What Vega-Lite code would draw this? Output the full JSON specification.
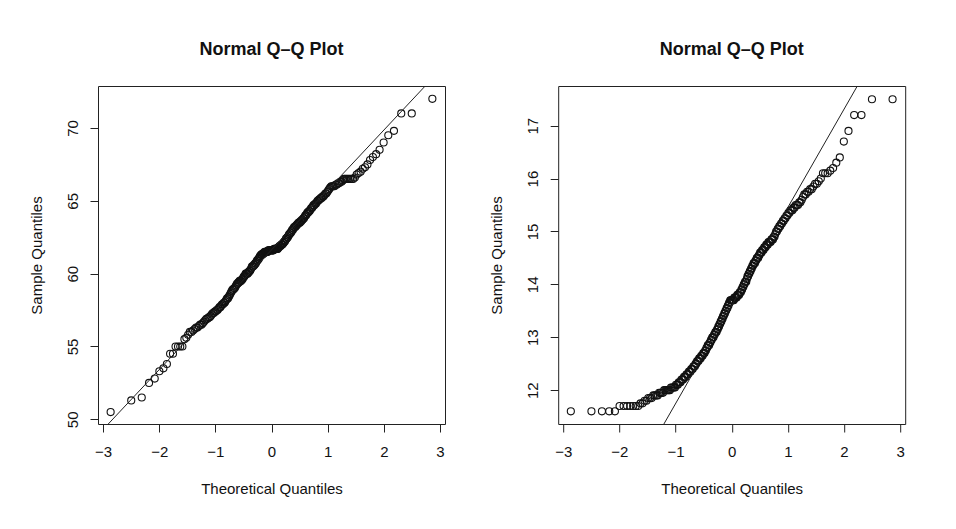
{
"$schema": "https://vega.github.io/schema/vega-lite/v6.json",
"background": "white",
"padding": {"left": 28, "top": 40, "right": 5, "bottom": 5},
"spacing": 42.2,
"datasets": {
"pts": [
{"x":-2.865,"a":50.5,"b":11.6},{"x":-2.498,"a":51.3,"b":11.6},{"x":-2.311,"a":51.5,"b":11.6},{"x":-2.181,"a":52.5,"b":11.6},{"x":-2.080,"a":52.8,"b":11.6},
{"x":-1.997,"a":53.3,"b":11.7},{"x":-1.925,"a":53.5,"b":11.7},{"x":-1.863,"a":53.8,"b":11.7},{"x":-1.806,"a":54.5,"b":11.7},{"x":-1.755,"a":54.5,"b":11.7},
{"x":-1.709,"a":55.0,"b":11.7},{"x":-1.665,"a":55.0,"b":11.7},{"x":-1.625,"a":55.0,"b":11.75},{"x":-1.587,"a":55.0,"b":11.75},{"x":-1.551,"a":55.5,"b":11.8},
{"x":-1.517,"a":55.6,"b":11.8},{"x":-1.485,"a":55.8,"b":11.85},{"x":-1.454,"a":56.0,"b":11.85},{"x":-1.425,"a":56.0,"b":11.85},{"x":-1.397,"a":56.1,"b":11.9},
{"x":-1.369,"a":56.2,"b":11.9},{"x":-1.343,"a":56.3,"b":11.9},{"x":-1.318,"a":56.3,"b":11.9},{"x":-1.293,"a":56.4,"b":11.95},{"x":-1.270,"a":56.5,"b":11.95},
{"x":-1.247,"a":56.5,"b":11.95},{"x":-1.224,"a":56.6,"b":11.95},{"x":-1.203,"a":56.7,"b":12.0},{"x":-1.181,"a":56.8,"b":12.0},{"x":-1.160,"a":56.9,"b":12.0},
{"x":-1.140,"a":56.9,"b":12.0},{"x":-1.120,"a":57.0,"b":12.0},{"x":-1.101,"a":57.0,"b":12.0},{"x":-1.082,"a":57.1,"b":12.05},{"x":-1.064,"a":57.2,"b":12.05},
{"x":-1.045,"a":57.3,"b":12.05},{"x":-1.027,"a":57.3,"b":12.05},{"x":-1.010,"a":57.4,"b":12.05},{"x":-0.993,"a":57.4,"b":12.1},{"x":-0.976,"a":57.5,"b":12.1},
{"x":-0.959,"a":57.5,"b":12.1},{"x":-0.943,"a":57.6,"b":12.15},{"x":-0.926,"a":57.7,"b":12.15},{"x":-0.911,"a":57.7,"b":12.15},{"x":-0.895,"a":57.8,"b":12.2},
{"x":-0.880,"a":57.9,"b":12.2},{"x":-0.864,"a":57.9,"b":12.2},{"x":-0.849,"a":58.0,"b":12.25},{"x":-0.834,"a":58.0,"b":12.25},{"x":-0.820,"a":58.1,"b":12.25},
{"x":-0.805,"a":58.2,"b":12.3},{"x":-0.791,"a":58.3,"b":12.3},{"x":-0.776,"a":58.3,"b":12.3},{"x":-0.762,"a":58.4,"b":12.35},{"x":-0.748,"a":58.5,"b":12.35},
{"x":-0.735,"a":58.6,"b":12.35},{"x":-0.721,"a":58.7,"b":12.4},{"x":-0.708,"a":58.8,"b":12.4},{"x":-0.694,"a":58.9,"b":12.4},{"x":-0.681,"a":58.9,"b":12.45},
{"x":-0.668,"a":59.0,"b":12.45},{"x":-0.655,"a":59.0,"b":12.45},{"x":-0.642,"a":59.1,"b":12.5},{"x":-0.629,"a":59.2,"b":12.5},{"x":-0.616,"a":59.3,"b":12.55},
{"x":-0.604,"a":59.3,"b":12.55},{"x":-0.591,"a":59.4,"b":12.55},{"x":-0.579,"a":59.4,"b":12.6},{"x":-0.567,"a":59.5,"b":12.6},{"x":-0.554,"a":59.5,"b":12.6},
{"x":-0.542,"a":59.5,"b":12.65},{"x":-0.530,"a":59.6,"b":12.65},{"x":-0.518,"a":59.6,"b":12.65},{"x":-0.506,"a":59.7,"b":12.7},{"x":-0.494,"a":59.8,"b":12.7},
{"x":-0.483,"a":59.8,"b":12.7},{"x":-0.471,"a":59.9,"b":12.75},{"x":-0.459,"a":60.0,"b":12.75},{"x":-0.448,"a":60.0,"b":12.8},{"x":-0.436,"a":60.0,"b":12.8},
{"x":-0.425,"a":60.0,"b":12.85},{"x":-0.414,"a":60.1,"b":12.85},{"x":-0.402,"a":60.1,"b":12.85},{"x":-0.391,"a":60.2,"b":12.9},{"x":-0.380,"a":60.2,"b":12.9},
{"x":-0.368,"a":60.3,"b":12.95},{"x":-0.357,"a":60.4,"b":12.95},{"x":-0.346,"a":60.5,"b":13.0},{"x":-0.335,"a":60.5,"b":13.0},{"x":-0.324,"a":60.5,"b":13.0},
{"x":-0.313,"a":60.6,"b":13.05},{"x":-0.302,"a":60.6,"b":13.05},{"x":-0.291,"a":60.7,"b":13.1},{"x":-0.281,"a":60.7,"b":13.1},{"x":-0.270,"a":60.8,"b":13.1},
{"x":-0.259,"a":60.9,"b":13.15},{"x":-0.248,"a":60.9,"b":13.15},{"x":-0.238,"a":61.0,"b":13.2},{"x":-0.227,"a":61.0,"b":13.2},{"x":-0.216,"a":61.1,"b":13.25},
{"x":-0.206,"a":61.2,"b":13.25},{"x":-0.195,"a":61.2,"b":13.3},{"x":-0.184,"a":61.3,"b":13.3},{"x":-0.174,"a":61.3,"b":13.35},{"x":-0.163,"a":61.3,"b":13.35},
{"x":-0.153,"a":61.4,"b":13.4},{"x":-0.142,"a":61.4,"b":13.4},{"x":-0.131,"a":61.4,"b":13.45},{"x":-0.121,"a":61.5,"b":13.45},{"x":-0.110,"a":61.5,"b":13.5},
{"x":-0.100,"a":61.5,"b":13.5},{"x":-0.089,"a":61.5,"b":13.55},{"x":-0.078,"a":61.5,"b":13.55},{"x":-0.068,"a":61.5,"b":13.6},{"x":-0.057,"a":61.6,"b":13.6},
{"x":-0.047,"a":61.6,"b":13.65},{"x":-0.037,"a":61.6,"b":13.65},{"x":-0.026,"a":61.6,"b":13.7},{"x":-0.016,"a":61.6,"b":13.7},{"x":-0.005,"a":61.6,"b":13.7},
{"x":0.005,"a":61.6,"b":13.7},{"x":0.016,"a":61.6,"b":13.7},{"x":0.026,"a":61.6,"b":13.7},{"x":0.037,"a":61.6,"b":13.7},{"x":0.047,"a":61.7,"b":13.75},
{"x":0.057,"a":61.7,"b":13.75},{"x":0.068,"a":61.7,"b":13.75},{"x":0.078,"a":61.7,"b":13.75},{"x":0.089,"a":61.7,"b":13.75},{"x":0.100,"a":61.7,"b":13.8},
{"x":0.110,"a":61.7,"b":13.8},{"x":0.121,"a":61.8,"b":13.8},{"x":0.131,"a":61.8,"b":13.8},{"x":0.142,"a":61.9,"b":13.85},{"x":0.153,"a":61.9,"b":13.85},
{"x":0.163,"a":61.9,"b":13.85},{"x":0.174,"a":62.0,"b":13.9},{"x":0.184,"a":62.0,"b":13.9},{"x":0.195,"a":62.0,"b":13.95},{"x":0.206,"a":62.1,"b":13.95},
{"x":0.216,"a":62.1,"b":14.0},{"x":0.227,"a":62.2,"b":14.0},{"x":0.238,"a":62.2,"b":14.05},{"x":0.248,"a":62.3,"b":14.05},{"x":0.259,"a":62.4,"b":14.05},
{"x":0.270,"a":62.4,"b":14.1},{"x":0.281,"a":62.5,"b":14.15},{"x":0.291,"a":62.5,"b":14.15},{"x":0.302,"a":62.6,"b":14.2},{"x":0.313,"a":62.7,"b":14.2},
{"x":0.324,"a":62.7,"b":14.25},{"x":0.335,"a":62.8,"b":14.25},{"x":0.346,"a":62.8,"b":14.3},{"x":0.357,"a":62.9,"b":14.3},{"x":0.368,"a":63.0,"b":14.35},
{"x":0.380,"a":63.0,"b":14.35},{"x":0.391,"a":63.1,"b":14.4},{"x":0.402,"a":63.2,"b":14.4},{"x":0.414,"a":63.2,"b":14.4},{"x":0.425,"a":63.2,"b":14.45},
{"x":0.436,"a":63.3,"b":14.45},{"x":0.448,"a":63.3,"b":14.5},{"x":0.459,"a":63.4,"b":14.5},{"x":0.471,"a":63.4,"b":14.5},{"x":0.483,"a":63.5,"b":14.55},
{"x":0.494,"a":63.5,"b":14.55},{"x":0.506,"a":63.5,"b":14.6},{"x":0.518,"a":63.6,"b":14.6},{"x":0.530,"a":63.6,"b":14.6},{"x":0.542,"a":63.7,"b":14.65},
{"x":0.554,"a":63.7,"b":14.65},{"x":0.567,"a":63.8,"b":14.65},{"x":0.579,"a":63.8,"b":14.7},{"x":0.591,"a":63.9,"b":14.7},{"x":0.604,"a":64.0,"b":14.7},
{"x":0.616,"a":64.0,"b":14.75},{"x":0.629,"a":64.1,"b":14.75},{"x":0.642,"a":64.2,"b":14.75},{"x":0.655,"a":64.2,"b":14.8},{"x":0.668,"a":64.3,"b":14.8},
{"x":0.681,"a":64.3,"b":14.8},{"x":0.694,"a":64.4,"b":14.8},{"x":0.708,"a":64.5,"b":14.85},{"x":0.721,"a":64.5,"b":14.85},{"x":0.735,"a":64.6,"b":14.85},
{"x":0.748,"a":64.7,"b":14.9},{"x":0.762,"a":64.7,"b":14.9},{"x":0.776,"a":64.8,"b":14.95},{"x":0.791,"a":64.8,"b":15.0},{"x":0.805,"a":64.9,"b":15.0},
{"x":0.820,"a":65.0,"b":15.05},{"x":0.834,"a":65.0,"b":15.05},{"x":0.849,"a":65.1,"b":15.1},{"x":0.864,"a":65.1,"b":15.1},{"x":0.880,"a":65.2,"b":15.15},
{"x":0.895,"a":65.2,"b":15.15},{"x":0.911,"a":65.3,"b":15.2},{"x":0.926,"a":65.3,"b":15.2},{"x":0.943,"a":65.4,"b":15.25},{"x":0.959,"a":65.5,"b":15.25},
{"x":0.976,"a":65.5,"b":15.3},{"x":0.993,"a":65.6,"b":15.3},{"x":1.010,"a":65.7,"b":15.35},{"x":1.027,"a":65.8,"b":15.35},{"x":1.045,"a":65.9,"b":15.4},
{"x":1.064,"a":66.0,"b":15.4},{"x":1.082,"a":66.0,"b":15.4},{"x":1.101,"a":66.0,"b":15.45},{"x":1.120,"a":66.0,"b":15.45},{"x":1.140,"a":66.1,"b":15.5},
{"x":1.160,"a":66.1,"b":15.5},{"x":1.181,"a":66.2,"b":15.5},{"x":1.203,"a":66.2,"b":15.55},{"x":1.224,"a":66.3,"b":15.55},{"x":1.247,"a":66.3,"b":15.6},
{"x":1.270,"a":66.4,"b":15.65},{"x":1.293,"a":66.5,"b":15.7},{"x":1.318,"a":66.5,"b":15.7},{"x":1.343,"a":66.5,"b":15.75},{"x":1.369,"a":66.5,"b":15.75},
{"x":1.397,"a":66.5,"b":15.8},{"x":1.425,"a":66.5,"b":15.8},{"x":1.454,"a":66.5,"b":15.85},{"x":1.485,"a":66.6,"b":15.9},{"x":1.517,"a":66.8,"b":15.9},
{"x":1.551,"a":66.9,"b":15.95},{"x":1.587,"a":67.0,"b":16.0},{"x":1.625,"a":67.2,"b":16.1},{"x":1.665,"a":67.3,"b":16.1},{"x":1.709,"a":67.5,"b":16.1},
{"x":1.755,"a":67.8,"b":16.15},{"x":1.806,"a":68.0,"b":16.2},{"x":1.863,"a":68.2,"b":16.3},{"x":1.925,"a":68.5,"b":16.4},{"x":1.997,"a":69.0,"b":16.7},
{"x":2.080,"a":69.5,"b":16.9},{"x":2.181,"a":69.8,"b":17.2},{"x":2.311,"a":71.0,"b":17.2},{"x":2.498,"a":71.0,"b":17.5},{"x":2.865,"a":72.0,"b":17.5}
],
"lineL": [{"x1":-3.3,"y1":48.067,"x2":3.3,"y2":75.193}],
"lineR": [{"x1":-3.3,"y1":7.4785,"x2":3.3,"y2":19.7215}]
},
"hconcat": [
{
"width": 347, "height": 338,
"title": "Normal Q–Q Plot",
"layer": [
{"data": {"name": "pts"},
 "mark": {"type": "point", "shape": "circle", "filled": false, "size": 50, "color": "#111", "strokeWidth": 1.1, "opacity": 1},
 "encoding": {
  "x": {"field": "x", "type": "quantitative", "title": "Theoretical Quantiles", "scale": {"domain": [-3.09, 3.09], "nice": false, "zero": false}, "axis": {"values": [-3, -2, -1, 0, 1, 2, 3], "format": "d"}},
  "y": {"field": "a", "type": "quantitative", "title": "Sample Quantiles", "scale": {"domain": [49.68, 72.88], "nice": false, "zero": false}, "axis": {"values": [50, 55, 60, 65, 70], "format": "d"}}
 }},
{"data": {"name": "lineL"},
 "mark": {"type": "rule", "clip": true, "color": "#222", "strokeWidth": 1},
 "encoding": {
  "x": {"field": "x1", "type": "quantitative", "title": "Theoretical Quantiles"},
  "y": {"field": "y1", "type": "quantitative", "title": "Sample Quantiles"},
  "x2": {"field": "x2"},
  "y2": {"field": "y2"}
 }}
]
},
{
"width": 347, "height": 338,
"title": "Normal Q–Q Plot",
"layer": [
{"data": {"name": "pts"},
 "mark": {"type": "point", "shape": "circle", "filled": false, "size": 50, "color": "#111", "strokeWidth": 1.1, "opacity": 1},
 "encoding": {
  "x": {"field": "x", "type": "quantitative", "title": "Theoretical Quantiles", "scale": {"domain": [-3.09, 3.09], "nice": false, "zero": false}, "axis": {"values": [-3, -2, -1, 0, 1, 2, 3], "format": "d"}},
  "y": {"field": "b", "type": "quantitative", "title": "Sample Quantiles", "scale": {"domain": [11.36, 17.75], "nice": false, "zero": false}, "axis": {"values": [12, 13, 14, 15, 16, 17], "format": "d"}}
 }},
{"data": {"name": "lineR"},
 "mark": {"type": "rule", "clip": true, "color": "#222", "strokeWidth": 1},
 "encoding": {
  "x": {"field": "x1", "type": "quantitative", "title": "Theoretical Quantiles"},
  "y": {"field": "y1", "type": "quantitative", "title": "Sample Quantiles"},
  "x2": {"field": "x2"},
  "y2": {"field": "y2"}
 }}
]
}
],
"config": {
 "font": "Liberation Sans",
 "view": {"stroke": "#222", "strokeWidth": 1},
 "axis": {"domain": false, "grid": false, "ticks": true, "tickSize": 8, "tickColor": "#222", "tickWidth": 1,
  "labelFont": "Liberation Sans", "labelFontSize": 15, "labelColor": "#111", "labelFlush": false, "labelOverlap": false, "labelBound": false,
  "titleFont": "Liberation Sans", "titleFontSize": 15, "titleFontWeight": "normal", "titleColor": "#111"},
 "axisX": {"labelBaseline": "alphabetic", "labelPadding": 24, "titleBaseline": "alphabetic", "titleY": 69},
 "axisY": {"labelAngle": -90, "labelAlign": "center", "labelBaseline": "alphabetic", "labelPadding": 13, "titleAngle": -90, "titleBaseline": "alphabetic", "titleX": -57, "titleY": 169},
 "title": {"font": "Liberation Sans", "fontSize": 18, "fontWeight": "bold", "color": "#111", "anchor": "middle", "frame": "group", "baseline": "alphabetic", "offset": 27.4}
}
}
